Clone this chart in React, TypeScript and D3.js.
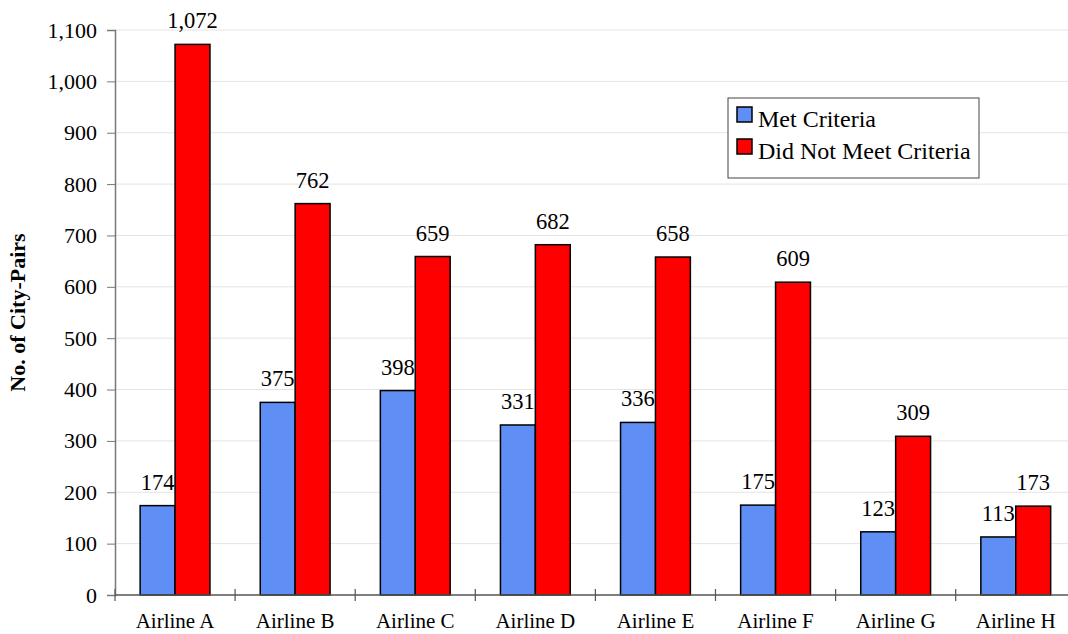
import React, {useEffect, useRef} from 'react';
import * as d3 from 'd3';

const airlines = ['Airline A', 'Airline B', 'Airline C', 'Airline D', 'Airline E', 'Airline F', 'Airline G', 'Airline H'];
const metCriteria = [174, 375, 398, 331, 336, 175, 123, 113];
const notMetCriteria = [1072, 762, 659, 682, 658, 609, 309, 173];
const seriesNames = ['Met Criteria', 'Did Not Meet Criteria'];
const yTicks = [0, 100, 200, 300, 400, 500, 600, 700, 800, 900, 1000, 1100];

const colors = ['#5f8ff5', '#ff0000'];
const serif = '"Liberation Serif", "Times New Roman", serif';

export default function App() {
    const ref = useRef<SVGSVGElement>(null);

    useEffect(() => {
        const svg = d3.select(ref.current);
        svg.selectAll('*').remove();

        const width = 1068, height = 634;
        const margin = {top: 30, left: 115, bottom: 39};
        const plotBottom = height - margin.bottom;

        const x0 = d3.scaleBand<string>().domain(airlines).range([margin.left, margin.left + 8 * 120.1]);
        const x1 = d3.scaleBand<string>().domain(seriesNames).range([0, x0.bandwidth()]).paddingOuter(0.72);
        const y = d3.scaleLinear().domain([0, 1100]).range([plotBottom, margin.top]);

        // gridlines
        svg.append('g').selectAll('line').data(yTicks.slice(1)).enter().append('line')
            .attr('x1', margin.left).attr('x2', width)
            .attr('y1', d => y(d)).attr('y2', d => y(d))
            .attr('stroke', '#e4e4e4').attr('stroke-width', 1);

        const data = airlines.map((a, i) => ({name: a, values: [metCriteria[i], notMetCriteria[i]]}));

        const groups = svg.selectAll('.group').data(data).enter().append('g')
            .attr('class', 'group')
            .attr('transform', d => 'translate(' + x0(d.name) + ',0)');

        groups.selectAll('rect').data(d => d.values.map((v, i) => ({key: seriesNames[i], value: v, i}))).enter()
            .append('rect')
            .attr('x', d => x1(d.key)!)
            .attr('y', d => y(d.value))
            .attr('width', x1.bandwidth())
            .attr('height', d => plotBottom - y(d.value))
            .attr('fill', d => colors[d.i])
            .attr('stroke', '#000').attr('stroke-width', 1.5);

        groups.selectAll('text').data(d => d.values.map((v, i) => ({key: seriesNames[i], value: v}))).enter()
            .append('text')
            .attr('x', d => x1(d.key)! + x1.bandwidth() / 2)
            .attr('y', d => y(d.value) - 16)
            .attr('text-anchor', 'middle')
            .style('font-family', serif).style('font-size', '22.5px')
            .text(d => d3.format(',')(d.value));

        // y axis
        const yAxis = d3.axisLeft(y).tickValues(yTicks).tickSize(8).tickPadding(10).tickFormat(d3.format(','));
        const ya = svg.append('g').attr('transform', 'translate(' + margin.left + ',0)').call(yAxis);
        ya.select('.domain').attr('stroke', '#777').attr('stroke-width', 1.5);
        ya.selectAll('.tick line').attr('stroke', '#777');
        ya.selectAll('.tick text').style('font-family', serif).style('font-size', '22px').attr('fill', '#000');

        // x axis
        svg.append('line')
            .attr('x1', margin.left).attr('x2', width)
            .attr('y1', plotBottom).attr('y2', plotBottom)
            .attr('stroke', '#555').attr('stroke-width', 1.5);
        svg.append('g').selectAll('line').data(airlines).enter().append('line')
            .attr('x1', d => x0(d)!).attr('x2', d => x0(d)!)
            .attr('y1', plotBottom - 6).attr('y2', plotBottom + 6)
            .attr('stroke', '#555').attr('stroke-width', 1.2);
        svg.append('g').selectAll('text').data(airlines).enter().append('text')
            .attr('x', d => x0(d)! + x0.bandwidth() / 2)
            .attr('y', plotBottom + 33)
            .attr('text-anchor', 'middle')
            .style('font-family', serif).style('font-size', '21px')
            .text(d => d);

        // y title
        svg.append('text')
            .attr('transform', 'translate(25,' + (margin.top + plotBottom) / 2 + ') rotate(-90)')
            .attr('text-anchor', 'middle')
            .style('font-family', serif).style('font-size', '22px').style('font-weight', 'bold')
            .text('No. of City-Pairs');

        // legend
        const legend = svg.append('g').attr('transform', 'translate(728,98)');
        legend.append('rect').attr('width', 251).attr('height', 80)
            .attr('fill', '#fff').attr('stroke', '#444').attr('stroke-width', 1);
        seriesNames.forEach((s, i) => {
            legend.append('rect')
                .attr('x', 9).attr('y', 9 + i * 32).attr('width', 15).attr('height', 15)
                .attr('fill', colors[i]).attr('stroke', '#000').attr('stroke-width', 1.5);
            legend.append('text')
                .attr('x', 30).attr('y', 29 + i * 32)
                .style('font-family', serif).style('font-size', '24px')
                .text(s);
        });
    }, []);

    return (
        <svg ref={ref} width={1068} height={634}
             style={{position: 'absolute', left: 0, top: 0, background: '#fff'}}/>
    );
}
